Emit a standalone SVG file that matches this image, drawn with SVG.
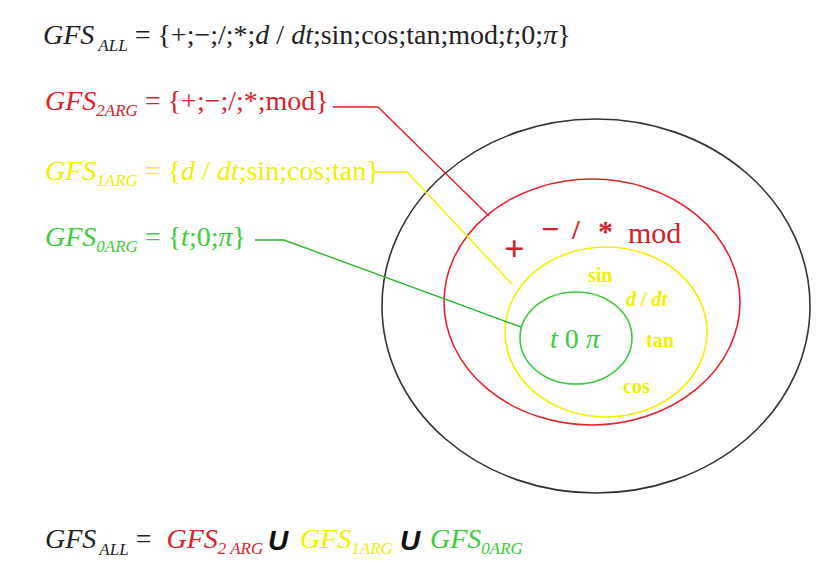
<svg xmlns="http://www.w3.org/2000/svg" width="819" height="563" viewBox="0 0 819 563">
<style>
.t{font-family:"Liberation Serif","Times New Roman",serif;font-size:28px}
.i{font-style:italic}
.s{font-size:17px;font-style:italic}
.u{font-family:"Liberation Sans",Arial,sans-serif;font-weight:bold;font-style:italic;font-size:28px;fill:#111}
.k{fill:#222}.r{fill:#e0202a}.y{fill:#f0f000}.g{fill:#3ccc3c}
.e{fill:none;stroke-width:1.6}
.c{fill:none;stroke-width:1.4}
</style>
<rect width="819" height="563" fill="#fff"/>
<g id="title">
<text class="t k" x="43" y="44"><tspan class="i">GFS</tspan><tspan class="s" dx="4" dy="7">ALL</tspan><tspan dy="-7"> = {+;−;/;*;</tspan><tspan class="i">d</tspan> / <tspan class="i">dt</tspan>;sin;cos;tan;mod;<tspan class="i">t</tspan>;0;<tspan class="i">π</tspan>}</text>
</g>
<g id="gfs2">
<text class="t r" x="45" y="110"><tspan class="i">GFS</tspan><tspan class="s" dy="6">2ARG</tspan><tspan dy="-6"> = {+;−;/;*;mod}</tspan></text>
</g>
<g id="gfs1">
<text class="t y" x="45" y="180"><tspan class="i">GFS</tspan><tspan class="s" dy="6">1ARG</tspan><tspan dy="-6"> = {</tspan><tspan class="i">d</tspan> / <tspan class="i">dt</tspan>;sin;cos;tan}</text>
</g>
<g id="gfs0">
<text class="t g" x="45" y="246"><tspan class="i">GFS</tspan><tspan class="s" dy="6">0ARG</tspan><tspan dy="-6"> = {</tspan><tspan class="i">t</tspan>;0;<tspan class="i">π</tspan>}</text>
</g>
<g id="all">
<ellipse class="e" cx="596" cy="306" rx="214" ry="187" stroke="#333"/>
</g>
<g id="set2">
<ellipse class="e" cx="592" cy="302" rx="148" ry="123" stroke="#e8202a" stroke-width="2"/>
<g font-family="Liberation Serif,serif" fill="#d42028">
<text x="504" y="261" font-size="36" font-weight="bold">+</text>
<text x="541" y="240" font-size="32" font-weight="bold">−</text>
<text x="572" y="239" font-size="28" font-weight="bold">/</text>
<text x="598" y="241" font-size="30" font-weight="bold">*</text>
<text x="628" y="243" font-size="30">mod</text>
</g>
</g>
<g id="set1">
<ellipse class="e" cx="606" cy="332" rx="101" ry="85" stroke="#f0f000" stroke-width="2"/>
<g font-family="Liberation Serif,serif" font-weight="bold" fill="#f0f000" font-size="20">
<text x="588" y="282">sin</text>
<text x="626" y="306"><tspan font-style="italic">d</tspan> / <tspan font-style="italic">dt</tspan></text>
<text x="646" y="347">tan</text>
<text x="623" y="393">cos</text>
</g>
</g>
<g id="set0">
<ellipse class="e" cx="576" cy="338" rx="56" ry="46" stroke="#3ccc3c"/>
<text x="550" y="348" font-family="Liberation Serif,serif" font-size="28" fill="#3ccc3c"><tspan font-style="italic">t</tspan> 0 <tspan font-style="italic">π</tspan></text>
</g>
<g id="connectors">
<polyline class="c" points="333,107 378,107 489,216" stroke="#e8202a"/>
<polyline class="c" points="376,172 407,172 512,284" stroke="#f0f000"/>
<polyline class="c" points="255,240 284,240 521,327" stroke="#2fb52f"/>
</g>
<g id="formula">
<text class="t" x="45" y="548"><tspan class="i k">GFS</tspan><tspan class="s k" dx="3" dy="7">ALL</tspan><tspan class="k" dy="-7"> = </tspan><tspan class="i r" dx="8">GFS</tspan><tspan class="s r" dy="6">2 ARG</tspan></text>
<text class="u" x="268" y="550">U</text>
<text class="t" x="300" y="548"><tspan class="i y">GFS</tspan><tspan class="s y" dy="6">1ARG</tspan></text>
<text class="u" x="400" y="550">U</text>
<text class="t" x="430" y="548"><tspan class="i g">GFS</tspan><tspan class="s g" dy="6">0ARG</tspan></text>
</g>
</svg>
